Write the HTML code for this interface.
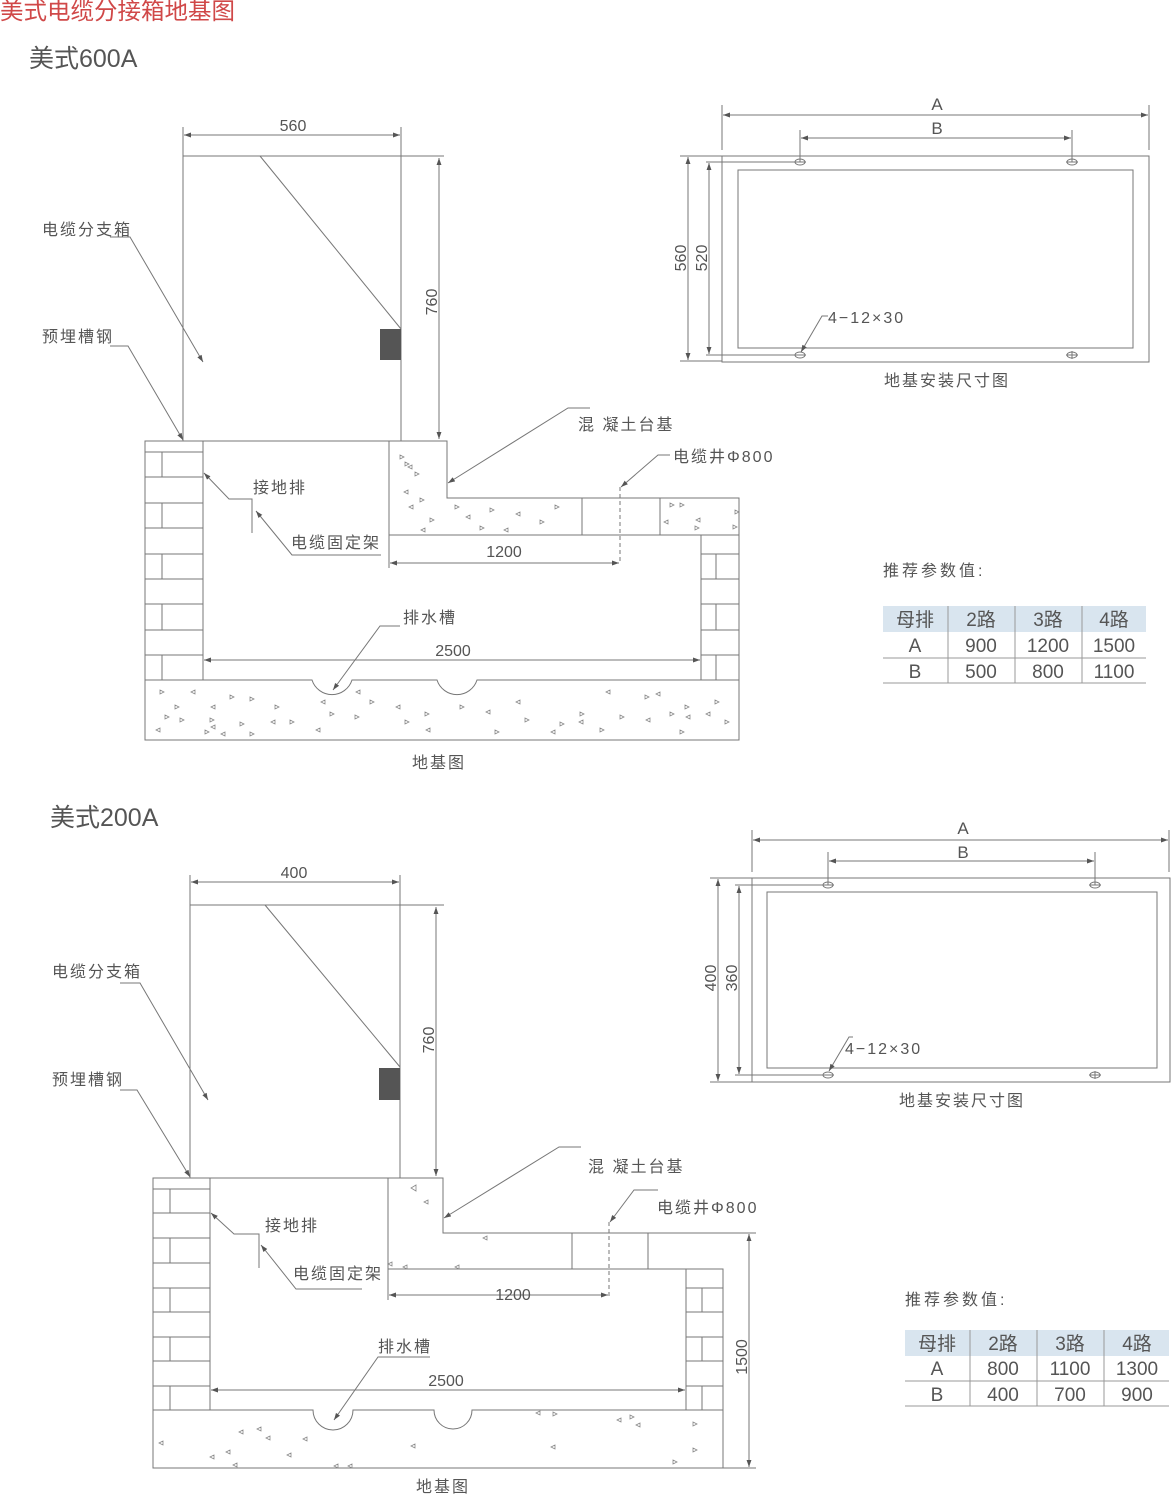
<!DOCTYPE html>
<html><head><meta charset="utf-8"><style>
html,body{margin:0;padding:0;background:#fff;}
svg{display:block;}
text{font-family:"Liberation Sans","Noto Sans CJK SC",sans-serif;fill:#555;}
.cn{letter-spacing:2px;}
</style></head><body>
<svg width="1171" height="1494" viewBox="0 0 1171 1494" xmlns="http://www.w3.org/2000/svg">
<defs>
<marker id="a" viewBox="0 0 10 10" refX="10" refY="5" markerWidth="7" markerHeight="7" orient="auto-start-reverse"><path d="M0 1.5L10 5L0 8.5z" fill="#555"/></marker>
</defs>
<text x="0" y="19" font-size="23.5" style="fill:#d04848">美式电缆分接箱地基图</text>

<!-- ===== 600A ===== -->
<text x="29" y="67" font-size="25">美式600A</text>
<g stroke="#777" stroke-width="1" fill="none">
<rect x="183" y="156" width="218" height="285"/>
<line x1="401" y1="156" x2="444" y2="156"/>
<line x1="183" y1="127" x2="183" y2="156"/><line x1="401" y1="127" x2="401" y2="156"/>
<line x1="184" y1="135" x2="400" y2="135" marker-start="url(#a)" marker-end="url(#a)"/>
<line x1="439" y1="158" x2="439" y2="439" marker-start="url(#a)" marker-end="url(#a)"/>
<line x1="260" y1="156" x2="401" y2="329"/>
<polyline points="110,237 130,237 203,362" marker-end="url(#a)"/>
<polyline points="110,346 128,346 183,440" marker-end="url(#a)"/>
<polyline points="252,533 252,499 229,499 204,473" marker-end="url(#a)"/>
<polyline points="381,555 292,555 256,511" marker-end="url(#a)"/>
<polyline points="590,408 568,408 448,483" marker-end="url(#a)"/>
<polyline points="670,455 658,455 621,487" marker-end="url(#a)"/>
<polyline points="400,626 380,626 333,690" marker-end="url(#a)"/>
<rect x="145" y="441" width="58" height="239"/>
<path d="M145 452H203M145 477H203M145 503H203M145 528H203M145 554H203M145 579H203M145 604H203M145 630H203M145 655H203"/>
<path d="M162 452V477M162 503V528M162 554V579M162 604V630M162 655V680"/>
<rect x="701" y="535" width="38" height="145"/>
<path d="M701 554H739M701 579H739M701 604H739M701 630H739M701 655H739"/>
<path d="M716 554V579M716 604V630M716 655V680"/>
<path d="M389 535V441H447V498H739V535H389"/>
<path d="M582 498V535M660 498V535"/>
<line x1="620" y1="487" x2="620" y2="563" stroke-dasharray="4,3"/>
<line x1="389" y1="535" x2="389" y2="568"/>
<line x1="390" y1="563" x2="619" y2="563" marker-start="url(#a)" marker-end="url(#a)"/>
<line x1="204" y1="660" x2="700" y2="660" marker-start="url(#a)" marker-end="url(#a)"/>
<path d="M145 680H312A21 21 0 0 0 352 680H437A21 21 0 0 0 477 680H739V740H145Z"/>
<rect x="722" y="156" width="427" height="206"/>
<rect x="738" y="170" width="395" height="178"/>
<path d="M722 105V150M1149 105V150M800 130V162M1072 130V162"/>
<line x1="723" y1="115" x2="1148" y2="115" marker-start="url(#a)" marker-end="url(#a)"/>
<line x1="801" y1="138" x2="1071" y2="138" marker-start="url(#a)" marker-end="url(#a)"/>
<path d="M680 156H722M680 361H722M706 162H800M706 355H800"/>
<line x1="688" y1="157" x2="688" y2="360" marker-start="url(#a)" marker-end="url(#a)"/>
<line x1="709" y1="163" x2="709" y2="354" marker-start="url(#a)" marker-end="url(#a)"/>
<ellipse cx="800" cy="162" rx="5" ry="3"/><ellipse cx="1072" cy="162" rx="5" ry="3"/>
<ellipse cx="800" cy="355" rx="5" ry="3"/><ellipse cx="1072" cy="355" rx="5" ry="3"/>
<path d="M794 162H806M1066 162H1078M794 355H806M1066 355H1078M1072 351V359"/>
<polyline points="828,316 822,316 801,352" marker-end="url(#a)"/>
</g>
<rect x="380" y="329" width="21" height="31" fill="#555"/>
<g fill="none" stroke="#888" stroke-width="0.8">
<path d="M400 455l4 2-4 2zM405 462l4 2-4 2zM412 465l-4 2 4 2zM415 472l4 2-4 2zM408 490l-4 2 4 2zM420 498l4 2-4 2zM413 505l-4 2 4 2zM430 518l4 2-4 2zM455 505l4 2-4 2zM470 515l-4 2 4 2zM490 508l4 2-4 2zM520 512l-4 2 4 2zM555 505l4 2-4 2zM540 520l4 2-4 2zM508 528l-4 2 4 2zM480 526l4 2-4 2zM425 528l-4 2 4 2zM670 503l4 2-4 2zM680 503l4 2-4 2zM735 510l4 2-4 2zM668 520l-4 2 4 2zM700 518l-4 2 4 2zM695 526l4 2-4 2zM733 525l4 2-4 2z"/>
<path d="M160 690l4 2-4 2zM195 690l-4 2 4 2zM175 705l4 2-4 2zM215 705l-4 2 4 2zM230 695l4 2-4 2zM250 697l4 2-4 2zM165 715l4 2-4 2zM180 718l4 2-4 2zM210 718l4 2-4 2zM215 725l-4 2 4 2zM240 722l4 2-4 2zM160 728l-4 2 4 2zM205 730l4 2-4 2zM225 732l-4 2 4 2zM250 732l4 2-4 2zM275 705l4 2-4 2zM275 720l-4 2 4 2zM290 720l4 2-4 2zM325 700l-4 2 4 2zM330 712l4 2-4 2zM320 728l-4 2 4 2zM355 715l4 2-4 2zM360 690l-4 2 4 2zM370 700l4 2-4 2zM400 705l-4 2 4 2zM405 720l4 2-4 2zM425 712l4 2-4 2zM430 728l-4 2 4 2zM460 705l4 2-4 2zM490 710l-4 2 4 2zM495 730l4 2-4 2zM520 700l-4 2 4 2zM525 718l4 2-4 2zM555 730l-4 2 4 2zM560 722l4 2-4 2zM580 712l4 2-4 2zM583 720l-4 2 4 2zM600 728l4 2-4 2zM610 690l-4 2 4 2zM620 715l4 2-4 2zM645 695l4 2-4 2zM660 692l-4 2 4 2zM650 718l-4 2 4 2zM670 712l4 2-4 2zM685 705l4 2-4 2zM690 715l-4 2 4 2zM715 700l4 2-4 2zM710 712l-4 2 4 2zM725 720l4 2-4 2zM680 730l4 2-4 2z"/>
</g>
<g font-size="16">
<text x="293" y="131" text-anchor="middle">560</text>
<text transform="translate(437,302) rotate(-90)" text-anchor="middle">760</text>
<text class="cn" x="42" y="235">电缆分支箱</text>
<text class="cn" x="42" y="342">预埋槽钢</text>
<text class="cn" x="253" y="493">接地排</text>
<text class="cn" x="291" y="548">电缆固定架</text>
<text class="cn" x="578" y="430">混 凝土台基</text>
<text class="cn" x="673" y="462">电缆井Φ800</text>
<text x="504" y="557" text-anchor="middle">1200</text>
<text x="453" y="656" text-anchor="middle">2500</text>
<text class="cn" x="403" y="623">排水槽</text>
<text class="cn" x="439" y="768" text-anchor="middle">地基图</text>
<text x="937" y="110" text-anchor="middle" font-size="17">A</text>
<text x="937" y="134" text-anchor="middle" font-size="17">B</text>
<text transform="translate(686,258) rotate(-90)" text-anchor="middle">560</text>
<text transform="translate(707,258) rotate(-90)" text-anchor="middle">520</text>
<text class="cn" x="828" y="323">4−12×30</text>
<text class="cn" x="947" y="386" text-anchor="middle">地基安装尺寸图</text>
<text x="883" y="576" style="letter-spacing:3px">推荐参数值:</text>
</g>
<rect x="883" y="606" width="263" height="26" fill="#d9e5ef"/>
<g stroke="#999" stroke-width="1">
<path d="M883 658H1146M883 683H1146M948 606V683M1015 606V683M1082 606V683"/>
</g>
<g font-size="19" text-anchor="middle">
<text x="915" y="626">母排</text><text x="981" y="626">2路</text><text x="1048" y="626">3路</text><text x="1114" y="626">4路</text>
<text x="915" y="652">A</text><text x="981" y="652">900</text><text x="1048" y="652">1200</text><text x="1114" y="652">1500</text>
<text x="915" y="678">B</text><text x="981" y="678">500</text><text x="1048" y="678">800</text><text x="1114" y="678">1100</text>
</g>

<!-- ===== 200A ===== -->
<text x="50" y="826" font-size="25">美式200A</text>
<g stroke="#777" stroke-width="1" fill="none">
<rect x="190" y="905" width="210" height="273"/>
<line x1="400" y1="905" x2="444" y2="905"/>
<line x1="190" y1="875" x2="190" y2="905"/><line x1="400" y1="875" x2="400" y2="905"/>
<line x1="191" y1="882" x2="399" y2="882" marker-start="url(#a)" marker-end="url(#a)"/>
<line x1="436" y1="907" x2="436" y2="1176" marker-start="url(#a)" marker-end="url(#a)"/>
<line x1="265" y1="905" x2="400" y2="1067"/>
<polyline points="120,983 140,983 208,1100" marker-end="url(#a)"/>
<polyline points="120,1090 137,1090 190,1177" marker-end="url(#a)"/>
<polyline points="259,1268 259,1234 234,1234 211,1213" marker-end="url(#a)"/>
<polyline points="362,1289 296,1289 261,1245" marker-end="url(#a)"/>
<polyline points="581,1147 559,1147 444,1218" marker-end="url(#a)"/>
<polyline points="658,1190 634,1190 610,1222" marker-end="url(#a)"/>
<polyline points="430,1357 378,1357 334,1420" marker-end="url(#a)"/>
<rect x="153" y="1178" width="57" height="232"/>
<path d="M153 1189H210M153 1213H210M153 1238H210M153 1263H210M153 1288H210M153 1312H210M153 1337H210M153 1361H210M153 1386H210"/>
<path d="M170 1189V1213M170 1238V1263M170 1288V1312M170 1337V1361M170 1386V1410"/>
<rect x="686" y="1269" width="37" height="141"/>
<path d="M686 1288H723M686 1312H723M686 1337H723M686 1361H723M686 1386H723"/>
<path d="M702 1288V1312M702 1337V1361M702 1386V1410"/>
<path d="M388 1269V1178H443V1233H723M388 1269H686"/>
<path d="M572 1233V1269M648 1233V1269"/>
<line x1="609" y1="1222" x2="609" y2="1297" stroke-dasharray="4,3"/>
<line x1="388" y1="1269" x2="388" y2="1300"/>
<line x1="389" y1="1295" x2="608" y2="1295" marker-start="url(#a)" marker-end="url(#a)"/>
<line x1="211" y1="1390" x2="685" y2="1390" marker-start="url(#a)" marker-end="url(#a)"/>
<path d="M723 1233H756M723 1468H756"/>
<line x1="749" y1="1234" x2="749" y2="1467" marker-start="url(#a)" marker-end="url(#a)"/>
<path d="M153 1410H313A20 20 0 0 0 353 1410H434A19 19 0 0 0 472 1410H723V1468H153Z"/>
<rect x="752" y="878" width="418" height="204"/>
<rect x="767" y="892" width="390" height="176"/>
<path d="M752 830V872M1169 830V872M828 852V885M1095 852V885"/>
<line x1="753" y1="840" x2="1168" y2="840" marker-start="url(#a)" marker-end="url(#a)"/>
<line x1="829" y1="861" x2="1094" y2="861" marker-start="url(#a)" marker-end="url(#a)"/>
<path d="M710 878H752M710 1082H752M735 885H828M735 1075H828"/>
<line x1="718" y1="879" x2="718" y2="1081" marker-start="url(#a)" marker-end="url(#a)"/>
<line x1="739" y1="886" x2="739" y2="1074" marker-start="url(#a)" marker-end="url(#a)"/>
<ellipse cx="828" cy="885" rx="5" ry="3"/><ellipse cx="1095" cy="885" rx="5" ry="3"/>
<ellipse cx="828" cy="1075" rx="5" ry="3"/><ellipse cx="1095" cy="1075" rx="5" ry="3"/>
<path d="M822 885H834M1089 885H1101M822 1075H834M1089 1075H1101M1095 1071V1079"/>
<polyline points="853,1037 849,1037 829,1071" marker-end="url(#a)"/>
</g>
<rect x="379" y="1068" width="21" height="32" fill="#555"/>
<g fill="none" stroke="#888" stroke-width="0.8">
<path d="M416 1185l-5 3 5 3zM428 1200l-4 2 4 2zM487 1236l-4 2 4 2zM392 1262l-4 2 4 2zM407 1265l-4 2 4 2zM459 1265l-4 2 4 2z"/>
<path d="M540 1411l-4 2 4 2zM553 1412l4 2-4 2zM621 1418l-4 2 4 2zM630 1415l4 2-4 2zM640 1423l-4 2 4 2zM693 1422l4 2-4 2zM693 1448l4 2-4 2zM163 1441l-4 2 4 2zM243 1430l-4 2 4 2zM261 1427l-4 2 4 2zM270 1436l-4 2 4 2zM214 1455l-4 2 4 2zM230 1450l-4 2 4 2zM291 1453l-4 2 4 2zM237 1463l-4 2 4 2zM307 1437l-4 2 4 2zM338 1464l-4 2 4 2zM352 1464l-4 2 4 2zM415 1444l-4 2 4 2zM555 1445l-4 2 4 2zM673 1460l4 2-4 2z"/>
</g>
<g font-size="16">
<text x="294" y="878" text-anchor="middle">400</text>
<text transform="translate(434,1040) rotate(-90)" text-anchor="middle">760</text>
<text class="cn" x="52" y="977">电缆分支箱</text>
<text class="cn" x="52" y="1085">预埋槽钢</text>
<text class="cn" x="265" y="1231">接地排</text>
<text class="cn" x="293" y="1279">电缆固定架</text>
<text class="cn" x="588" y="1172">混 凝土台基</text>
<text class="cn" x="657" y="1213">电缆井Φ800</text>
<text x="513" y="1300" text-anchor="middle">1200</text>
<text x="446" y="1386" text-anchor="middle">2500</text>
<text class="cn" x="378" y="1352">排水槽</text>
<text transform="translate(747,1357) rotate(-90)" text-anchor="middle">1500</text>
<text class="cn" x="443" y="1492" text-anchor="middle">地基图</text>
<text x="963" y="834" text-anchor="middle" font-size="17">A</text>
<text x="963" y="858" text-anchor="middle" font-size="17">B</text>
<text transform="translate(716,978) rotate(-90)" text-anchor="middle">400</text>
<text transform="translate(737,978) rotate(-90)" text-anchor="middle">360</text>
<text class="cn" x="845" y="1054">4−12×30</text>
<text class="cn" x="962" y="1106" text-anchor="middle">地基安装尺寸图</text>
<text x="905" y="1305" style="letter-spacing:3px">推荐参数值:</text>
</g>
<rect x="905" y="1330" width="264" height="26" fill="#d9e5ef"/>
<g stroke="#999" stroke-width="1">
<path d="M905 1381H1169M905 1406H1169M970 1330V1406M1037 1330V1406M1104 1330V1406"/>
</g>
<g font-size="19" text-anchor="middle">
<text x="937" y="1350">母排</text><text x="1003" y="1350">2路</text><text x="1070" y="1350">3路</text><text x="1137" y="1350">4路</text>
<text x="937" y="1375">A</text><text x="1003" y="1375">800</text><text x="1070" y="1375">1100</text><text x="1137" y="1375">1300</text>
<text x="937" y="1401">B</text><text x="1003" y="1401">400</text><text x="1070" y="1401">700</text><text x="1137" y="1401">900</text>
</g>
</svg>
</body></html>
